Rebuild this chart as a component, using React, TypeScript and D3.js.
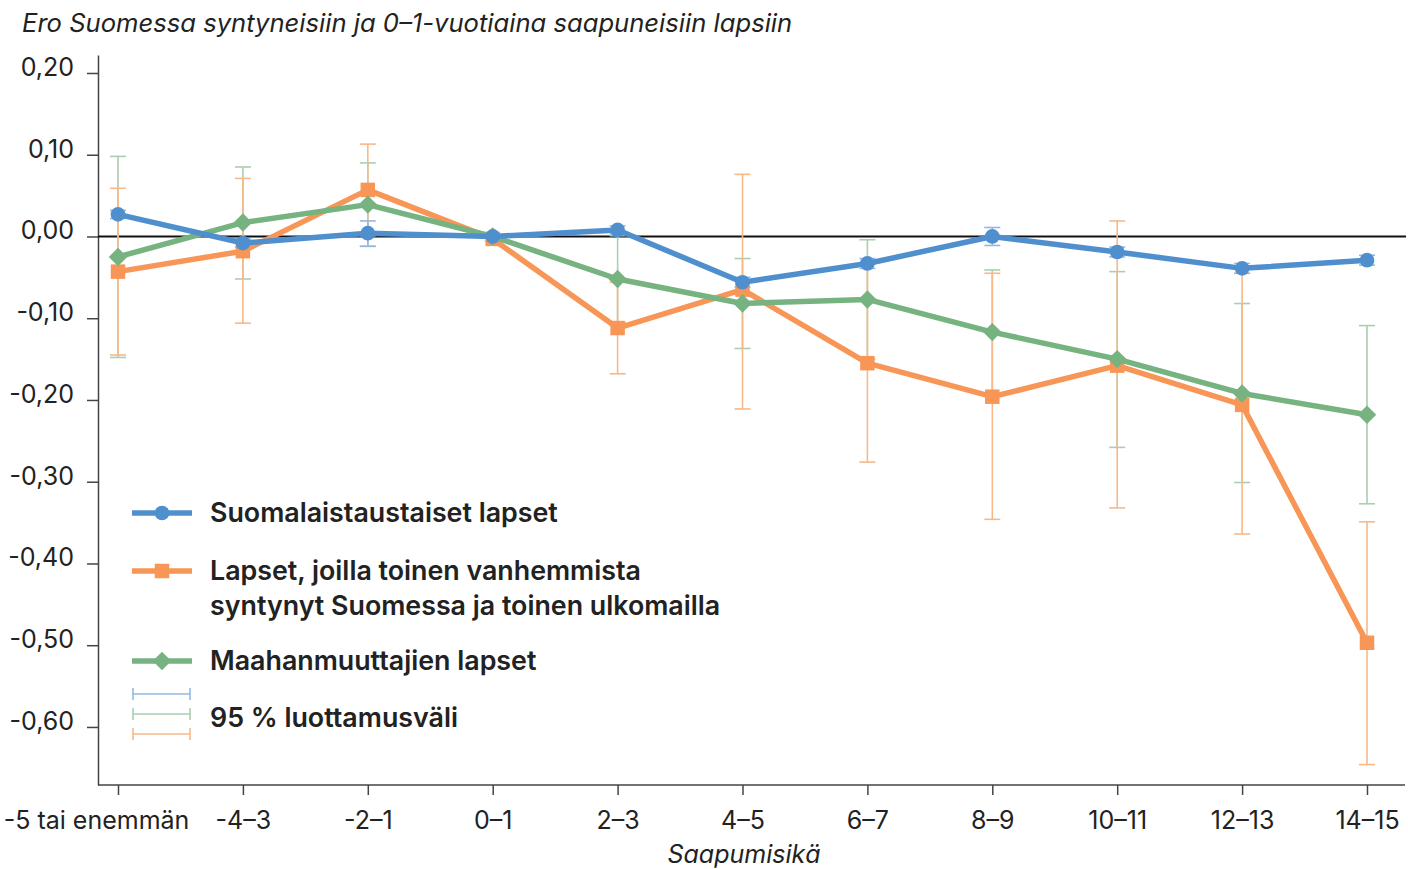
import { useEffect, useRef } from 'react';
import * as d3 from 'd3';

const ageGroups = ['-5 tai enemmän', '-4–3', '-2–1', '0–1', '2–3', '4–5', '6–7', '8–9', '10–11', '12–13', '14–15'];

const finnishValues = [0.027, -0.008, 0.004, 0.0, 0.008, -0.056, -0.033, 0.0, -0.019, -0.039, -0.029];
const finnishLow = [0.022, -0.013, -0.012, -0.002, 0.003, -0.062, -0.039, -0.011, -0.025, -0.045, -0.035];
const finnishHigh = [0.032, -0.003, 0.019, 0.002, 0.013, -0.050, -0.027, 0.011, -0.013, -0.033, -0.023];

const mixedValues = [-0.043, -0.018, 0.057, -0.003, -0.112, -0.065, -0.155, -0.196, -0.158, -0.206, -0.497];
const mixedLow = [-0.145, -0.106, 0.001, -0.006, -0.168, -0.211, -0.276, -0.346, -0.332, -0.364, -0.646];
const mixedHigh = [0.059, 0.071, 0.113, 0.000, -0.056, 0.076, -0.034, -0.045, 0.019, -0.045, -0.349];

const immigrantValues = [-0.025, 0.017, 0.039, 0.0, -0.052, -0.082, -0.077, -0.117, -0.150, -0.192, -0.218];
const immigrantLow = [-0.148, -0.052, -0.012, -0.002, -0.105, -0.137, -0.150, -0.193, -0.258, -0.301, -0.327];
const immigrantHigh = [0.098, 0.085, 0.090, 0.002, 0.001, -0.027, -0.004, -0.041, -0.043, -0.082, -0.109];

const yTicks = [0.2, 0.1, 0, -0.1, -0.2, -0.3, -0.4, -0.5, -0.6];

// square turned 45 degrees, equal width and height
const symbolRhomb = {
  draw(context, size) {
    const r = Math.sqrt(size / 2);
    context.moveTo(0, -r);
    context.lineTo(r, 0);
    context.lineTo(0, r);
    context.lineTo(-r, 0);
    context.closePath();
  },
};

const series = [
  { name: 'Suomalaistaustaiset lapset', values: finnishValues, low: finnishLow, high: finnishHigh, color: '#4f8fcd', ci: '#93b9e2', symbol: d3.symbolCircle, size: 170 },
  { name: 'Lapset, joilla toinen vanhemmista|syntynyt Suomessa ja toinen ulkomailla', values: mixedValues, low: mixedLow, high: mixedHigh, color: '#f79656', ci: '#f9b888', symbol: d3.symbolSquare, size: 210 },
  { name: 'Maahanmuuttajien lapset', values: immigrantValues, low: immigrantLow, high: immigrantHigh, color: '#76b380', ci: '#a9cfae', symbol: symbolRhomb, size: 170 },
];

const FONT = 'Inter, "Noto Sans", sans-serif';

export default function App() {
  const svgRef = useRef(null);

  useEffect(() => {
    const width = 1408;
    const height = 869;
    const svg = d3.select(svgRef.current);
    svg.selectAll('*').remove();

    const x = d3.scalePoint().domain(ageGroups).range([118, 1367]);
    const y = d3.scaleLinear().domain([-0.671, 0.222]).range([785, 55]);
    const fmt = d3.formatLocale({ decimal: ',', thousands: ' ', grouping: [3], currency: ['', '€'], minus: '-' }).format('.2f');

    // title
    svg.append('text')
      .attr('x', 22).attr('y', 32)
      .style('font-family', FONT).style('font-style', 'italic').style('font-size', '25.6px')
      .attr('fill', '#222')
      .text('Ero Suomessa syntyneisiin ja 0–1-vuotiaina saapuneisiin lapsiin');

    // y axis
    const yAxis = svg.append('g').attr('transform', 'translate(98,0)')
      .call(d3.axisLeft(y).tickValues(yTicks).tickFormat(fmt).tickSize(11).tickSizeOuter(0));
    yAxis.select('.domain').attr('stroke', '#444').attr('stroke-width', 1.5);
    yAxis.selectAll('.tick line').attr('stroke', '#444').attr('stroke-width', 1.5);
    yAxis.selectAll('.tick text')
      .attr('x', -24).attr('dy', '0.1em')
      .style('font-family', FONT).style('font-size', '25px').attr('fill', '#222');

    // x axis
    const xAxis = svg.append('g').attr('transform', 'translate(0,785)')
      .call(d3.axisBottom(x).tickSize(10).tickSizeOuter(0));
    xAxis.select('.domain').attr('d', 'M98,0H1405').attr('stroke', '#444').attr('stroke-width', 1.5);
    xAxis.selectAll('.tick line').attr('stroke', '#444').attr('stroke-width', 1.5);
    xAxis.selectAll('.tick text')
      .attr('y', 35).attr('dy', '0.35em')
      .attr('x', (d, i) => (i === 0 ? -22 : 0))
      .style('font-family', FONT).style('font-size', '25px').attr('fill', '#222');

    svg.append('text')
      .attr('x', 744).attr('y', 863).attr('text-anchor', 'middle')
      .style('font-family', FONT).style('font-style', 'italic').style('font-size', '25px')
      .attr('fill', '#222')
      .text('Saapumisikä');

    // zero line
    svg.append('line')
      .attr('x1', 98).attr('x2', 1406).attr('y1', y(0)).attr('y2', y(0))
      .attr('stroke', '#111').attr('stroke-width', 2);

    // error bars (drawn in reverse so blue sits on top)
    [...series].reverse().forEach(s => {
      const g = svg.append('g');
      s.values.forEach((_, i) => {
        const cx = x(ageGroups[i]);
        g.append('line').attr('x1', cx).attr('x2', cx).attr('y1', y(s.low[i])).attr('y2', y(s.high[i]))
          .attr('stroke', s.ci).attr('stroke-width', 1.6);
        [s.low[i], s.high[i]].forEach(v => {
          g.append('line').attr('x1', cx - 8).attr('x2', cx + 8).attr('y1', y(v)).attr('y2', y(v))
            .attr('stroke', s.ci).attr('stroke-width', 1.6);
        });
      });
    });

    // lines + markers
    const line = d3.line().x((_, i) => x(ageGroups[i])).y(d => y(d));
    [series[1], series[2], series[0]].forEach(s => {
      svg.append('path').datum(s.values).attr('d', line)
        .attr('fill', 'none').attr('stroke', s.color).attr('stroke-width', 5.5).attr('stroke-linejoin', 'round');
      svg.append('g').selectAll('path').data(s.values).join('path')
        .attr('transform', (d, i) => `translate(${x(ageGroups[i])},${y(d)})`)
        .attr('d', d3.symbol(s.symbol, s.size))
        .attr('fill', s.color);
    });

    // legend
    const legendY = [513, 571, 661];
    series.forEach((s, k) => {
      const ly = legendY[k];
      svg.append('line').attr('x1', 132).attr('x2', 192).attr('y1', ly).attr('y2', ly)
        .attr('stroke', s.color).attr('stroke-width', 5.5);
      svg.append('path').attr('transform', `translate(162,${ly})`)
        .attr('d', d3.symbol(s.symbol, s.size)).attr('fill', s.color);
      const t = svg.append('text').attr('x', 210).attr('y', ly + 9)
        .style('font-family', FONT).style('font-weight', 600).style('font-size', '26.8px').attr('fill', '#222');
      s.name.split('|').forEach((part, j) => {
        t.append('tspan').attr('x', 210).attr('dy', j === 0 ? 0 : 35).text(part);
      });
    });

    [series[0], series[2], series[1]].forEach((s, k) => {
      const ly = 694 + k * 20;
      const g = svg.append('g').attr('stroke', s.ci).attr('stroke-width', 1.6);
      g.append('line').attr('x1', 133).attr('x2', 190).attr('y1', ly).attr('y2', ly);
      g.append('line').attr('x1', 133).attr('x2', 133).attr('y1', ly - 6).attr('y2', ly + 6);
      g.append('line').attr('x1', 190).attr('x2', 190).attr('y1', ly - 6).attr('y2', ly + 6);
    });
    svg.append('text').attr('x', 210).attr('y', 727)
      .style('font-family', FONT).style('font-weight', 600).style('font-size', '26.8px').attr('fill', '#222')
      .text('95 % luottamusväli');

    svg.attr('width', width).attr('height', height);
  }, []);

  return (
    <div style={{ position: 'absolute', left: 0, top: 0 }}>
      <svg ref={svgRef} width={1408} height={869} style={{ display: 'block', background: '#fff' }} />
    </div>
  );
}
